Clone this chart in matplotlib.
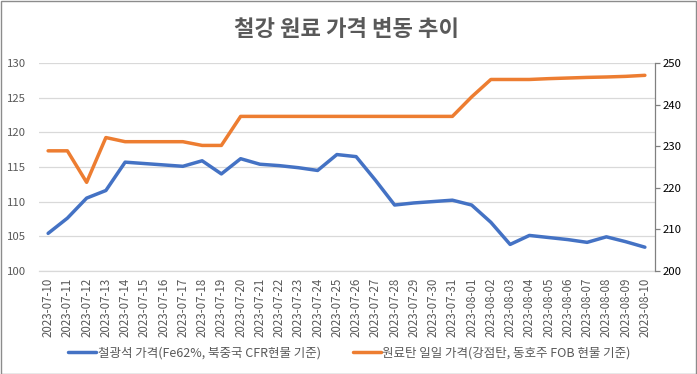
import matplotlib
matplotlib.use("Agg")
import matplotlib.pyplot as plt
from matplotlib.patches import Rectangle

plt.rcParams['font.family'] = ['Noto Sans CJK KR', 'DejaVu Sans']

dates = ["2023-07-10", "2023-07-11", "2023-07-12", "2023-07-13", "2023-07-14",
         "2023-07-15", "2023-07-16", "2023-07-17", "2023-07-18", "2023-07-19",
         "2023-07-20", "2023-07-21", "2023-07-22", "2023-07-23", "2023-07-24",
         "2023-07-25", "2023-07-26", "2023-07-27", "2023-07-28", "2023-07-29",
         "2023-07-30", "2023-07-31", "2023-08-01", "2023-08-02", "2023-08-03",
         "2023-08-04", "2023-08-05", "2023-08-06", "2023-08-07", "2023-08-08",
         "2023-08-09", "2023-08-10"]

iron_ore = [105.4, 107.6, 110.5, 111.6, 115.7, 115.5, 115.3, 115.1, 115.9, 114.0,
            116.2, 115.4, 115.2, 114.9, 114.5, 116.8, 116.5, 113.1, 109.5, 109.8,
            110.0, 110.2, 109.5, 107.0, 103.8, 105.1, 104.8, 104.5, 104.1, 104.9,
            104.2, 103.4]

coking_coal = [228.9, 228.9, 221.3, 232.1, 231.1, 231.1, 231.1, 231.1, 230.2, 230.2,
               237.2, 237.2, 237.2, 237.2, 237.2, 237.2, 237.2, 237.2, 237.2, 237.2,
               237.2, 237.2, 241.9, 246.1, 246.1, 246.1, 246.3, 246.45, 246.6, 246.7,
               246.85, 247.1]

title = "철강 원료 가격 변동 추이"
label_iron = "철광석 가격(Fe62%, 북중국 CFR현물 기준)"
label_coal = "원료탄 일일 가격(강점탄, 동호주 FOB 현물 기준)"

left_ticks = [100, 105, 110, 115, 120, 125, 130]
right_ticks = [200, 210, 220, 230, 240, 250]

W, H = 697, 374
fig = plt.figure(figsize=(W / 100, H / 100), dpi=100)
ax = fig.add_axes([38.5 / W, 1 - 270.7 / H, (654.5 - 38.5) / W, (270.7 - 63.3) / H])
ax2 = ax.twinx()

text_color = "#595959"
x = list(range(len(dates)))

ax.set_axisbelow(True)
ax.yaxis.grid(True, color="#d9d9d9", linewidth=0.9)
l1, = ax.plot(x, iron_ore, color="#4472C4", linewidth=2.5,
              solid_capstyle="round", solid_joinstyle="round", label=label_iron)
l2, = ax2.plot(x, coking_coal, color="#ED7D31", linewidth=2.5,
               solid_capstyle="round", solid_joinstyle="round", label=label_coal)

ax.set_xlim(-0.5, len(dates) - 0.5)
ax.set_ylim(100, 130)
ax.set_yticks(left_ticks)
ax2.set_ylim(200, 250)
ax2.set_yticks(right_ticks)

ax.set_xticks(x)
ax.set_xticklabels(dates, rotation=90, fontsize=8.3, color=text_color)
ax.tick_params(axis="x", length=0, pad=5)
ax.tick_params(axis="y", length=0, pad=9, labelsize=8.2, labelcolor=text_color)
ax2.tick_params(axis="y", length=3.5, width=0.9, color="#808080", pad=2,
                labelsize=8.2, labelcolor="#000000")

for s in ["top", "left", "right"]:
    ax.spines[s].set_visible(False)
ax.spines["bottom"].set_color("#d9d9d9")
ax.spines["bottom"].set_linewidth(0.9)
for s in ["top", "left", "bottom"]:
    ax2.spines[s].set_visible(False)
ax2.spines["right"].set_color("#808080")
ax2.spines["right"].set_linewidth(0.9)

fig.text(347 / W, 1 - 29 / H, title, ha="center", va="center",
         fontsize=16, fontweight="bold", color=text_color)

fig.legend([l1, l2], [label_iron, label_coal], loc="center",
           bbox_to_anchor=(349.5 / W, 1 - 353 / H), ncol=2, frameon=False,
           fontsize=9, handlelength=2.2, handletextpad=0.15, columnspacing=2.6,
           labelcolor=text_color)

fig.patches.append(Rectangle((0.5 / W, 0.5 / H), 1 - 1.5 / W, 1 - 1.5 / H,
                             transform=fig.transFigure, fill=False,
                             edgecolor="#8c8c8c", linewidth=1.0))

fig.savefig("out.png", dpi=100)
